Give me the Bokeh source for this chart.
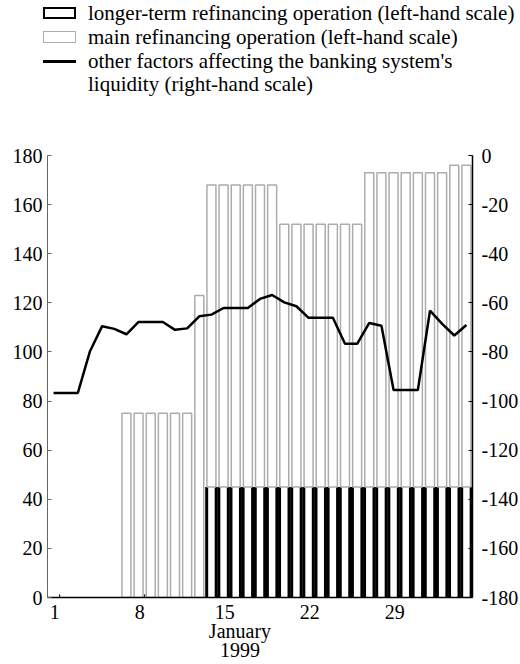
from bokeh.plotting import figure
from bokeh.models import Range1d, LinearAxis, FixedTicker, ColumnDataSource, PrintfTickFormatter, Div
from bokeh.layouts import column
from bokeh.embed import file_html
from bokeh.resources import INLINE

# ---------------- data ----------------
days = list(range(1, 36))  # January 1 ... February 4, 1999
main_refinancing = [0, 0, 0, 0, 0, 0,
                    75, 75, 75, 75, 75, 75,
                    123,
                    123, 123, 123, 123, 123, 123,
                    107, 107, 107, 107, 107, 107, 107,
                    128, 128, 128, 128, 128, 128, 128,
                    131, 131]
longer_term_refinancing = [0] * 13 + [45] * 22
other_factors = [-96.7, -96.7, -96.7, -79.7, -69.5, -70.6, -72.8, -67.8, -67.8, -67.8,
                 -71.0, -70.4, -65.5, -64.8, -62.1, -62.1, -62.1, -58.4, -56.8, -59.8,
                 -61.4, -66.1, -66.1, -66.1, -76.7, -76.7, -68.2, -69.3, -95.5, -95.5,
                 -95.5, -63.2, -68.6, -73.3, -69.0]
left_ticks = [0, 20, 40, 60, 80, 100, 120, 140, 160, 180]
right_ticks = [-180, -160, -140, -120, -100, -80, -60, -40, -20, 0]
x_tick_days = [1, 8, 15, 22, 29]
x_tick_labels = ["1", "8", "15", "22", "29"]
month_label = "January"
year_label = "1999"
month_label_day = 15.85
legend_labels = ["longer-term refinancing operation (left-hand scale)",
                 "main refinancing operation (left-hand scale)",
                 "other factors affecting the banking system's",
                 "liquidity (right-hand scale)"]

FONT = "Liberation Serif"
GREY = "#acacac"
AXIS_GREY = "#666666"
W = 519

# ---------------- main chart ----------------
p = figure(frame_width=425, frame_height=442, width=W, height=531,
           x_range=Range1d(0, 35), y_range=Range1d(0, 180),
           output_backend="svg", toolbar_location=None,
           min_border_left=47, min_border_right=47,
           min_border_top=27, min_border_bottom=62)
p.extra_y_ranges = {"right": Range1d(-180, 0)}
p.outline_line_color = None
p.grid.visible = False

# left axis
ya = p.yaxis[0]
ya.ticker = FixedTicker(ticks=left_ticks)
ya.formatter = PrintfTickFormatter(format="%d")
ya.major_tick_in = 4
ya.major_tick_out = 0
ya.minor_tick_line_color = None
ya.axis_line_color = AXIS_GREY
ya.major_tick_line_color = AXIS_GREY
ya.major_label_text_font = FONT
ya.major_label_text_font_size = "20px"
ya.major_label_text_color = "black"
ya.major_label_standoff = 5

# right axis
ra = LinearAxis(y_range_name="right", ticker=FixedTicker(ticks=right_ticks),
                formatter=PrintfTickFormatter(format="%d"))
ra.major_tick_in = 4
ra.major_tick_out = 0
ra.minor_tick_line_color = None
ra.axis_line_color = "black"
ra.axis_line_width = 1.5
ra.major_tick_line_color = "black"
ra.major_label_text_font = FONT
ra.major_label_text_font_size = "20px"
ra.major_label_text_color = "black"
ra.major_label_standoff = 9
p.add_layout(ra, "right")

# bottom axis: day labels sit slightly left of the day-end tick marks
label_pos = [round(d - 0.4, 2) for d in x_tick_days]
xa = p.xaxis[0]
xa.ticker = FixedTicker(ticks=label_pos + [month_label_day])
overrides = {pos: lab for pos, lab in zip(label_pos, x_tick_labels)}
overrides[month_label_day] = "\n" + month_label + "\n" + year_label
xa.major_label_overrides = overrides
xa.major_tick_line_color = None
xa.minor_tick_line_color = None
xa.axis_line_color = "black"
xa.axis_line_width = 1.5
xa.major_label_text_font = FONT
xa.major_label_text_font_size = "20px"
xa.major_label_text_color = "black"
xa.major_label_text_line_height = 0.88
xa.major_label_standoff = -3

# day tick marks (inward)
p.segment(x0=x_tick_days, y0=[0] * len(x_tick_days), x1=x_tick_days,
          y1=[1.3] * len(x_tick_days), line_color="black", line_width=1)

# longer-term refinancing bars (thick black sides)
lt_days = [d for d, v in zip(days, longer_term_refinancing) if v > 0]
lt_vals = [v for v in longer_term_refinancing if v > 0]
half_w = 0.39
xs0 = [d - 0.5 - half_w for d in lt_days] + [d - 0.5 + half_w for d in lt_days]
ys1 = lt_vals + lt_vals
p.segment(x0=xs0, y0=[0] * len(xs0), x1=xs0, y1=ys1, line_color="black", line_width=3)

# main refinancing bars (stacked on top of longer-term)
mr_src = ColumnDataSource(dict(
    x=[d - 0.5 for d, m in zip(days, main_refinancing) if m > 0],
    bottom=[lt for lt, m in zip(longer_term_refinancing, main_refinancing) if m > 0],
    top=[lt + m for lt, m in zip(longer_term_refinancing, main_refinancing) if m > 0],
))
p.vbar(x="x", bottom="bottom", top="top", width=0.74, source=mr_src,
       fill_color="white", line_color=GREY, line_width=1.5)

# other factors line (right-hand scale)
p.line(x=[d - 0.5 for d in days], y=other_factors, y_range_name="right",
       line_color="black", line_width=2.5)

# ---------------- legend (HTML block above the chart) ----------------
symbols = [
    "left:43px;top:7px;width:33px;height:12px;border:2.5px solid black;box-sizing:border-box;",
    "left:43px;top:31px;width:33px;height:12px;border:1.5px solid %s;box-sizing:border-box;" % GREY,
    "left:43px;top:60px;width:33px;height:2.5px;background:black;",
    None,
]
row_centers = [13, 37, 61, 84]
parts = []
for sym, lab, yc in zip(symbols, legend_labels, row_centers):
    if sym:
        parts.append('<div style="position:absolute;%s"></div>' % sym)
    parts.append('<div style="position:absolute;left:88px;top:%dpx;height:24px;line-height:24px;'
                 'white-space:nowrap;">%s</div>' % (yc - 12, lab))
html = ('<div style="position:relative;width:%dpx;height:128px;font-family:\'%s\';'
        'font-size:21px;color:black;">%s</div>' % (W, FONT, "".join(parts)))
legend_div = Div(text=html, width=W, height=128, margin=0)

layout = column(legend_div, p)
open("out.html", "w").write(file_html(layout, INLINE))
